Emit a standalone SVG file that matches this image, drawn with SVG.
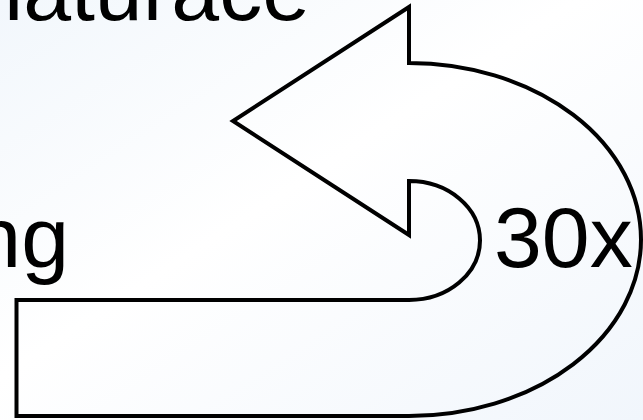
<svg xmlns="http://www.w3.org/2000/svg" width="643" height="420" viewBox="0 0 643 420">
  <defs>
    <linearGradient id="bg" x1="0" y1="0" x2="1" y2="1">
      <stop offset="0" stop-color="#f2f7fc"/>
      <stop offset="0.45" stop-color="#ffffff"/>
      <stop offset="1" stop-color="#f1f6fc"/>
    </linearGradient>
  </defs>
  <style>
    .lbl { font-family: "Liberation Sans", Arial, sans-serif; font-size: 86px; fill: #000; }
    .shape { fill: none; stroke: #000; stroke-width: 4; stroke-linejoin: miter; }
  </style>
  <rect x="0" y="0" width="643" height="420" fill="url(#bg)"/>
  <g id="loop-arrow">
    <path class="shape" d="M 16.5 300 L 409 300 A 71 59.5 0 0 0 409 181 L 409 235 L 233 121 L 409 7 L 409 63 A 232 176.5 0 0 1 409 416 L 16.5 416 Z"/>
  </g>
  <g id="label-denaturace">
    <text class="lbl" x="310" y="20" text-anchor="end">naturace</text>
  </g>
  <g id="label-annealing">
    <text class="lbl" x="69" y="267" text-anchor="end">ng</text>
  </g>
  <g id="label-cycles">
    <text class="lbl" x="494" y="267">30x</text>
  </g>
</svg>
